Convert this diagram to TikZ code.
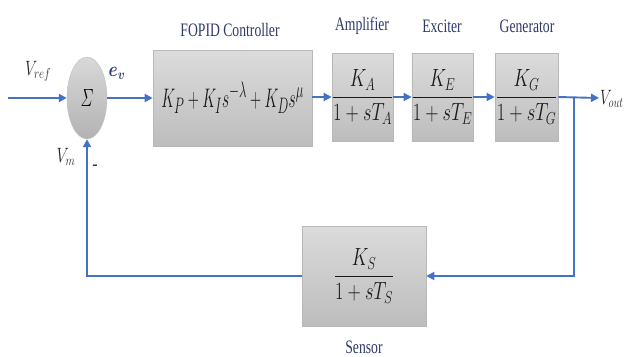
\documentclass[tikz,border=0pt]{standalone}
\usepackage{amsmath}
\usepackage{graphicx}
\usepackage{fontspec}
\setmainfont{Liberation Serif}
\usetikzlibrary{arrows.meta,shapes.geometric}
\definecolor{lineblue}{HTML}{4472C4}
\definecolor{titleblue}{HTML}{2E3A68}
\newcommand{\sqz}[2][0.72]{\scalebox{#1}[1]{#2}}
\newcommand{\tf}[2]{\scalebox{0.74}[1]{\fontsize{23}{27}\selectfont$\genfrac{}{}{1.3pt}{0}{#1}{#2}$}}
\begin{document}
\begin{tikzpicture}[x=1pt,y=-1pt,
  blk/.style={draw=black!28, line width=0.6pt, top color=black!14, bottom color=black!26,
              inner sep=0pt, minimum height=88pt, text=black!90},
  conn/.style={draw=lineblue, line width=1.9pt, -{Triangle[length=8pt,width=8pt]}},
  ttl/.style={text=titleblue, font=\fontsize{19}{21}\selectfont, inner sep=0pt},
  lbl/.style={text=black!85, font=\fontsize{22}{24}\selectfont, inner sep=0pt}]
\useasboundingbox (0,0) rectangle (626,356);
% summing junction
\node[ellipse, draw=black!25, top color=black!15, bottom color=black!30,
      minimum width=40pt, minimum height=82pt, inner sep=0pt] (sum) at (87,98)
      {\fontsize{34}{36}\selectfont\sqz[0.62]{$\varSigma$}};
% blocks
\node[blk, minimum width=159pt, minimum height=96pt] (fopid) at (232.5,98)
      {\fontsize{24.88}{29}\selectfont\scalebox{0.62}[1.08]{$K_P+K_I s^{-\lambda}+K_D s^{\mu}$}};
\node[blk, minimum width=61pt] (amp) at (362.5,97) {\tf{K_A}{1+sT_A}};
\node[blk, minimum width=59pt] (exc) at (442.5,97) {\tf{K_E}{1+sT_E}};
\node[blk, minimum width=63pt] (gen) at (526.5,97) {\tf{K_G}{1+sT_G}};
\node[blk, minimum width=124pt, minimum height=100pt] (sens) at (364,276) {\tf{K_S}{1+sT_S}};
% titles
\node[ttl] (tfopid) at (230,30) {\sqz{FOPID Controller}};
\node[ttl] (tamp) at (362,26) {\sqz{Amplifier}};
\node[ttl] (texc) at (442,26) {\sqz{Exciter}};
\node[ttl] (tgen) at (527,26) {\sqz{Generator}};
\node[ttl] (tsens) at (364,347) {\sqz{Sensor}};
% signal labels
\node[lbl] (lvref) at (38,71) {\sqz[0.75]{$V_{ref}$}};
\node[lbl, text=titleblue] (lev) at (117,73) {\sqz[0.8]{$\boldsymbol{e_v}$}};
\node[lbl] (lvm) at (66,157) {\sqz[0.75]{$V_m$}};
\node[lbl, font=\fontsize{16}{18}\selectfont\bfseries] (lminus) at (95,167) {-};
\coordinate (vin) at (8,98);
\coordinate (vout) at (599,98);
\coordinate (jn) at (574,98);
\node[lbl, anchor=west] (lvout) at (600,99) {\sqz[0.72]{$V_{out}$}};
% connectors
\draw[conn] (vin) -- (sum.west);
\draw[conn] (sum.east) -- (fopid.west |- sum.east);
\draw[conn] (fopid.east |- amp.west) -- (amp.west);
\draw[conn] (amp.east) -- (exc.west);
\draw[conn] (exc.east) -- (gen.west);
\draw[conn] (gen.east) -- (vout);
\draw[conn] (jn) |- (sens.east);
\draw[conn] (sens.west) -| (sum.south);
\end{tikzpicture}
\end{document}
